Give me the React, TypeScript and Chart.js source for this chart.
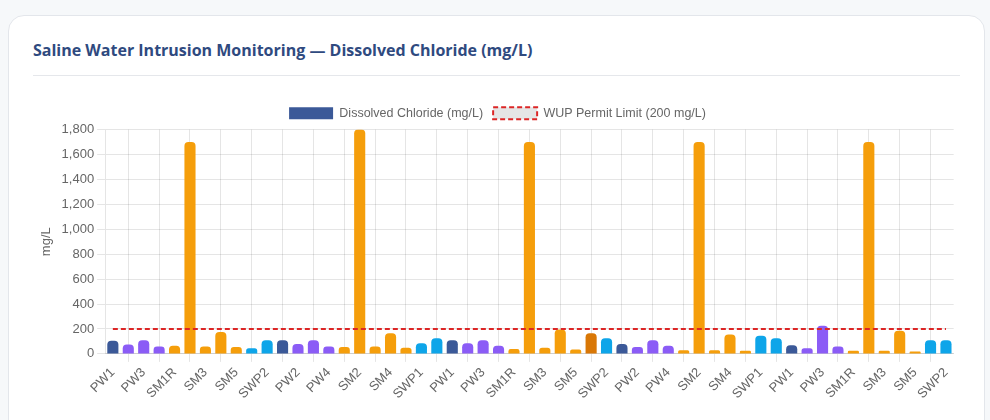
import React, { useEffect, useRef } from "react";
import { Chart, registerables } from "chart.js";

Chart.register(...registerables);

const categories: string[] = [
  "PW1", "PW2", "PW3", "PW4", "SM1R", "SM2", "SM3", "SM4", "SM5", "SWP1", "SWP2",
  "PW1", "PW2", "PW3", "PW4", "SM1R", "SM2", "SM3", "SM4", "SM5", "SWP1", "SWP2",
  "PW1", "PW2", "PW3", "PW4", "SM1R", "SM2", "SM3", "SM4", "SM5", "SWP1", "SWP2",
  "PW1", "PW2", "PW3", "PW4", "SM1R", "SM2", "SM3", "SM4", "SM5", "SWP1", "SWP2",
  "PW1", "PW2", "PW3", "PW4", "SM1R", "SM2", "SM3", "SM4", "SM5", "SWP1", "SWP2",
];

const chloride: number[] = [
  105, 75, 110, 60, 65, 1700, 60, 175, 55, 45, 110,
  110, 80, 110, 60, 55, 1800, 60, 165, 50, 85, 125,
  110, 85, 110, 65, 40, 1700, 50, 195, 35, 165, 125,
  80, 55, 110, 65, 30, 1700, 30, 155, 25, 145, 125,
  70, 45, 225, 60, 25, 1700, 25, 185, 20, 110, 110,
];

const permitLimit: number[] = categories.map(() => 200);

const NAVY = "#3b5998";
const PURPLE = "#8b5cf6";
const ORANGE = "#f59e0b";
const DARK_ORANGE = "#d97706";
const CYAN = "#0ea5e9";

const barColors: string[] = [
  NAVY, PURPLE, PURPLE, PURPLE, ORANGE, ORANGE, ORANGE, ORANGE, ORANGE, CYAN, CYAN,
  NAVY, PURPLE, PURPLE, PURPLE, ORANGE, ORANGE, ORANGE, ORANGE, ORANGE, CYAN, CYAN,
  NAVY, PURPLE, PURPLE, PURPLE, ORANGE, ORANGE, ORANGE, ORANGE, ORANGE, DARK_ORANGE, CYAN,
  NAVY, PURPLE, PURPLE, PURPLE, ORANGE, ORANGE, ORANGE, ORANGE, ORANGE, CYAN, CYAN,
  NAVY, PURPLE, PURPLE, PURPLE, ORANGE, ORANGE, ORANGE, ORANGE, ORANGE, CYAN, CYAN,
];

const yTicks = { min: 0, max: 1800, step: 200 };

export default function App() {
  const ref = useRef<HTMLCanvasElement | null>(null);

  useEffect(() => {
    document.body.style.margin = "0";
    document.body.style.background = "#f6f8fa";
    if (!ref.current) return;
    const chart = new Chart(ref.current, {
      type: "bar",
      data: {
        labels: categories,
        datasets: [
          {
            type: "bar",
            label: "Dissolved Chloride (mg/L)",
            data: chloride,
            backgroundColor: barColors,
            borderRadius: 4,
            borderSkipped: "start",
            order: 1,
          } as any,
          {
            type: "line",
            label: "WUP Permit Limit (200 mg/L)",
            data: permitLimit,
            borderColor: "#dc2626",
            borderDash: [5, 3],
            borderWidth: 2,
            pointRadius: 0,
            fill: false,
            order: 0,
          } as any,
        ],
      },
      options: {
        animation: false,
        responsive: true,
        maintainAspectRatio: false,
        layout: { padding: { left: 2 } },
        plugins: {
          legend: {
            position: "top",
            labels: {
              boxWidth: 44,
              boxHeight: 12,
              font: { size: 12.5 },
              sort: (a: any, b: any) => a.datasetIndex - b.datasetIndex,
              generateLabels: (c: any) => {
                const items = (Chart.defaults.plugins.legend.labels as any).generateLabels(c);
                return items.map((it: any) =>
                  it.datasetIndex === 0 ? { ...it, fillStyle: NAVY, strokeStyle: NAVY, lineWidth: 0 } : it
                );
              },
            },
          },
          tooltip: { enabled: false },
        },
        scales: {
          x: {
            ticks: { maxRotation: 45, minRotation: 45, font: { size: 13 } },
          },
          y: {
            min: yTicks.min,
            max: yTicks.max,
            ticks: { stepSize: yTicks.step, font: { size: 13 } },
            title: { display: true, text: "mg/L", font: { size: 13 } },
          },
        },
      },
    });
    return () => chart.destroy();
  }, []);

  return (
    <div style={{ padding: "15px 5px 0 8px", minHeight: 420, boxSizing: "border-box" }}>
      <div
        style={{
          background: "#ffffff",
          border: "1px solid #e3e6eb",
          borderRadius: 16,
          padding: "24px 24px 0 24px",
          height: 440,
          boxSizing: "border-box",
        }}
      >
        <h2
          style={{
            margin: 0,
            fontFamily: "'Open Sans', 'Noto Sans', sans-serif",
            fontSize: 16,
            lineHeight: "20px",
            fontWeight: 700,
            color: "#2f4a7f",
            paddingBottom: 15,
            borderBottom: "1px solid #e5e7eb",
          }}
        >
          Saline Water Intrusion Monitoring — Dissolved Chloride (mg/L)
        </h2>
        <div style={{ position: "relative", height: 308, marginTop: 21 }}>
          <canvas ref={ref} />
        </div>
      </div>
    </div>
  );
}
